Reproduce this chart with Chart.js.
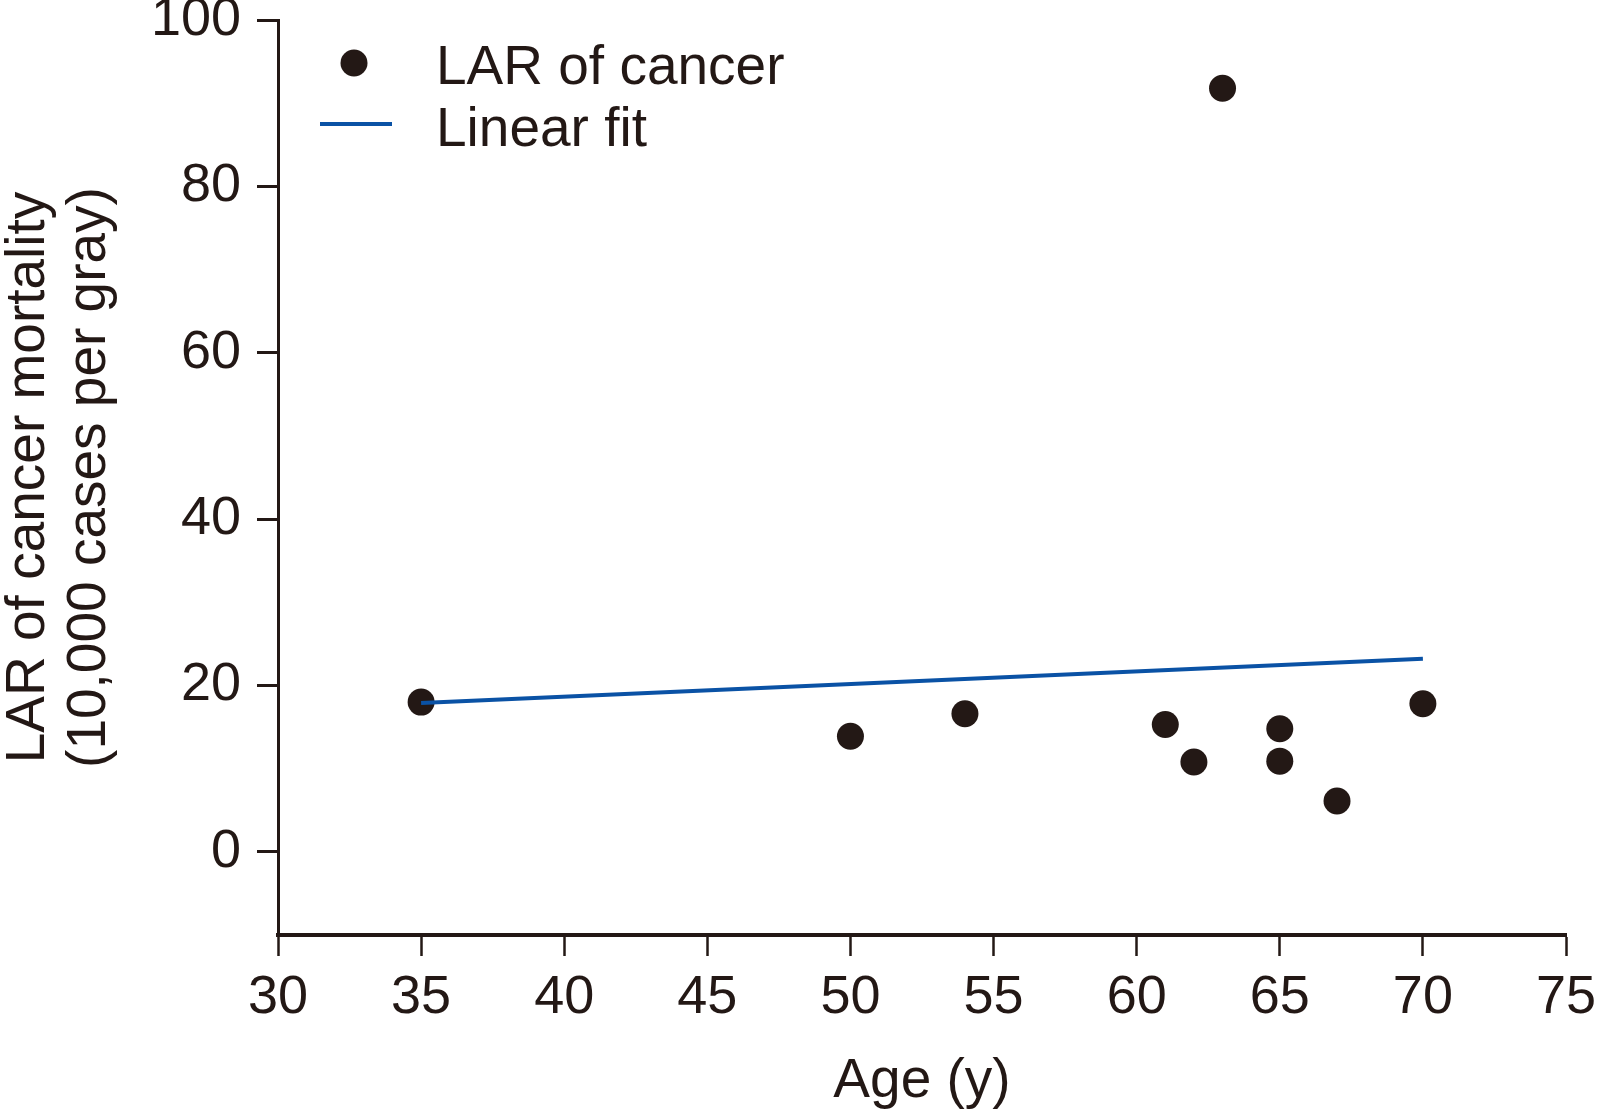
<!DOCTYPE html>
<html>
<head>
<meta charset="utf-8">
<script src="https://cdn.jsdelivr.net/npm/chart.js@4/dist/chart.umd.min.js"></script>
<style>
  html, body { margin: 0; padding: 0; background: #fff; }
  #wrap { width: 1597px; height: 1115px; position: relative; }
</style>
</head>
<body>
<div id="wrap"><canvas id="larChart"></canvas></div>
<script>
// Data
const ages = [35, 50, 54, 61, 62, 63, 65, 65, 67, 70];
const larValues = [18.0, 13.9, 16.6, 15.3, 10.8, 91.8, 14.8, 10.9, 6.1, 17.8];
const fitAges = [35, 70];
const fitValues = [17.9, 23.2];
const xTickValues = [30, 35, 40, 45, 50, 55, 60, 65, 70, 75];
const yTickValues = [0, 20, 40, 60, 80, 100];
const legendLabels = ['LAR of cancer', 'Linear fit'];

const ink = '#231815';
const blue = '#0a52a5';
const FONT = "'Liberation Sans', Arial, sans-serif";

// Legend drawn in the upper-left corner of the plot, like the original.
const cornerLegend = {
  id: 'cornerLegend',
  afterDraw(chart) {
    const ctx = chart.ctx;
    const dots = chart.data.datasets[0];
    const fit = chart.data.datasets[1];
    ctx.save();
    ctx.fillStyle = dots.backgroundColor;
    ctx.beginPath();
    ctx.arc(354, 63, dots.pointRadius, 0, Math.PI * 2);
    ctx.fill();
    ctx.strokeStyle = fit.borderColor;
    ctx.lineWidth = fit.borderWidth;
    ctx.beginPath();
    ctx.moveTo(320, 124);
    ctx.lineTo(392, 124);
    ctx.stroke();
    ctx.fillStyle = ink;
    ctx.font = '55px ' + FONT;
    ctx.textBaseline = 'alphabetic';
    ctx.fillText(legendLabels[0], 436, 84);
    ctx.fillText(legendLabels[1], 436, 146);
    ctx.restore();
  }
};

new Chart(document.getElementById('larChart'), {
  type: 'scatter',
  data: {
    datasets: [
      {
        label: legendLabels[0],
        data: ages.map((a, i) => ({ x: a, y: larValues[i] })),
        backgroundColor: ink,
        borderColor: ink,
        pointRadius: 13.5,
        pointBorderWidth: 0,
        order: 2
      },
      {
        type: 'line',
        label: legendLabels[1],
        data: fitAges.map((a, i) => ({ x: a, y: fitValues[i] })),
        borderColor: blue,
        borderWidth: 4,
        pointRadius: 0,
        fill: false,
        tension: 0,
        order: 1
      }
    ]
  },
  options: {
    responsive: true,
    maintainAspectRatio: false,
    animation: false,
    layout: { padding: { top: 20, right: 31, bottom: 0, left: 0 } },
    plugins: { legend: { display: false }, tooltip: { enabled: false } },
    scales: {
      x: {
        type: 'linear',
        min: 30,
        max: 75,
        afterBuildTicks: (s) => { s.ticks = xTickValues.map((v) => ({ value: v })); },
        afterFit: (s) => { s.height = 180; s.paddingLeft = 0; s.paddingRight = 0; },
        grid: { drawOnChartArea: false, drawTicks: true, tickLength: 21, tickWidth: 2.5, tickColor: ink },
        border: { display: true, color: ink, width: 4 },
        ticks: { color: ink, padding: 10, autoSkip: false, maxRotation: 0, font: { family: FONT, size: 54 } },
        title: { display: true, text: 'Age (y)', color: ink, padding: 0, font: { family: FONT, size: 55 } }
      },
      y: {
        min: -10,
        max: 100,
        afterBuildTicks: (s) => { s.ticks = yTickValues.map((v) => ({ value: v })); },
        afterFit: (s) => { s.width = 278; s.paddingTop = 0; s.paddingBottom = 0; },
        grid: { drawOnChartArea: false, drawTicks: true, tickLength: 21, tickWidth: 3, tickColor: ink },
        border: { display: true, color: ink, width: 3 },
        ticks: { color: ink, padding: 16, font: { family: FONT, size: 54 } },
        title: {
          display: true,
          text: ['LAR of cancer mortality', '(10,000 cases per gray)'],
          color: ink,
          padding: { top: -2, bottom: 0 },
          font: { family: FONT, size: 55, lineHeight: 1.11 }
        }
      }
    }
  },
  plugins: [cornerLegend]
});
</script>
</body>
</html>
